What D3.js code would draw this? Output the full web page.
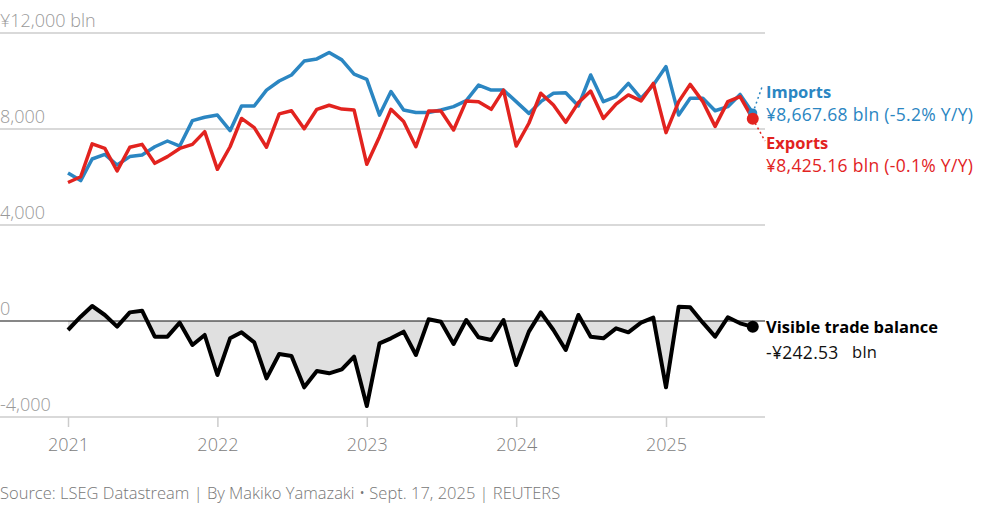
<!DOCTYPE html>
<html>
<head>
<meta charset="utf-8">
<script src="https://cdn.jsdelivr.net/npm/d3@7"></script>
<style>
  body { margin: 0; background: #fff; }
  svg { display: block; font-family: 'Open Sans', 'Lato', sans-serif; }
</style>
</head>
<body>
<div id="chart"></div>
<script>
(function(d3) {
  'use strict';

  //months, Jan 2021 - Aug 2025
  var months = [
    '2021-01','2021-02','2021-03','2021-04','2021-05','2021-06','2021-07','2021-08','2021-09','2021-10','2021-11','2021-12',
    '2022-01','2022-02','2022-03','2022-04','2022-05','2022-06','2022-07','2022-08','2022-09','2022-10','2022-11','2022-12',
    '2023-01','2023-02','2023-03','2023-04','2023-05','2023-06','2023-07','2023-08','2023-09','2023-10','2023-11','2023-12',
    '2024-01','2024-02','2024-03','2024-04','2024-05','2024-06','2024-07','2024-08','2024-09','2024-10','2024-11','2024-12',
    '2025-01','2025-02','2025-03','2025-04','2025-05','2025-06','2025-07','2025-08'
  ];

  //yen, billions
  var imports = [
    6170, 5850, 6750, 6940, 6500, 6850, 6920, 7260, 7500, 7290, 8350, 8490,
    8580, 7930, 8960, 8960, 9620, 10000, 10250, 10830, 10920, 11190, 10880, 10290,
    10070, 8580, 9560, 8790, 8690, 8690, 8790, 8930, 9180, 9830, 9620, 9620,
    9140, 8650, 9140, 9490, 9510, 8960, 10250, 9140, 9350, 9900, 9280, 9830,
    10600, 8580, 9280, 9280, 8760, 8930, 9440, 8667.68
  ];
  var exports = [
    5770, 6010, 7380, 7190, 6250, 7240, 7360, 6570, 6850, 7190, 7360, 7890,
    6320, 7260, 8440, 8060, 7240, 8630, 8760, 8010, 8820, 8990, 8830, 8790,
    6530, 7680, 8820, 8310, 7260, 8750, 8750, 7960, 9170, 9140, 8820, 9620,
    7290, 8240, 9490, 9000, 8280, 9100, 9580, 8440, 9040, 9420, 9170, 9900,
    7850, 9140, 9860, 9140, 8110, 9140, 9350, 8425.16
  ];
  var balance = [
    -375, 180, 625, 250, -236, 360, 430, -653, -653, -70, -1000, -583,
    -2250, -722, -472, -889, -2389, -1375, -1458, -2764, -2083, -2180, -2014, -1486,
    -3542, -931, -722, -444, -1417, 70, -28, -958, 42, -680, -792, 42,
    -1833, -444, 360, -375, -1208, 250, -653, -722, -306, -472, -70, 139,
    -2764, 597, 569, -70, -653, 153, -97, -242.53
  ];

  //axis ticks
  var yTicks = [-4000, 0, 4000, 8000, 12000];
  var yearTicks = ['2021', '2022', '2023', '2024', '2025'];

  //Sizes
  var width = 981;
  var height = 505;
  var plotLeft = 0;
  var plotRight = 765;

  //Colors
  var importColor = '#2b86c2';
  var exportColor = '#e2231f';
  var gridColor = '#cccccc';
  var labelColor = '#999999';

  var parseMonth = d3.timeParse('%Y-%m');
  var dates = months.map(parseMonth);

  var x = d3.scaleTime()
    .domain([parseMonth('2021-01'), parseMonth('2025-01')])
    .range([68, 666]);

  var y = d3.scaleLinear()
    .domain([-4000, 12000])
    .range([417, 33]);

  var svg = d3.select('#chart').append('svg')
    .attr('width', width)
    .attr('height', height);

  //gridlines + labels
  var grid = svg.append('g');
  grid.selectAll('line')
    .data(yTicks.filter(function(d){ return d !== 0; }))
    .enter().append('line')
    .attr('x1', plotLeft).attr('x2', plotRight)
    .attr('y1', function(d){ return y(d); })
    .attr('y2', function(d){ return y(d); })
    .attr('stroke', gridColor)
    .attr('stroke-width', 1.5);

  grid.selectAll('text')
    .data(yTicks)
    .enter().append('text')
    .attr('x', 0)
    .attr('y', function(d){ return y(d) - 6; })
    .attr('fill', labelColor)
    .attr('font-size', 18)
    .attr('font-weight', 300)
    .text(function(d){
      var s = d3.format(',')(d).replace('−', '-');
      return d === 12000 ? '¥' + s + ' bln' : s;
    });

  //x axis ticks
  var xAxis = d3.axisBottom(x)
    .tickValues(yearTicks.map(function(d){ return d3.timeParse('%Y')(d); }))
    .tickFormat(d3.timeFormat('%Y'))
    .tickSize(10)
    .tickPadding(11);

  var xg = svg.append('g')
    .attr('transform', 'translate(0,' + y(-4000) + ')')
    .call(xAxis);
  xg.select('.domain').remove();
  xg.selectAll('line').attr('stroke', gridColor).attr('stroke-width', 1.5);
  xg.selectAll('text')
    .attr('fill', '#808080')
    .attr('font-size', 18)
    .attr('font-weight', 300)
    .attr('font-family', "'Open Sans', sans-serif");

  //balance area
  var area = d3.area()
    .x(function(d, i){ return x(dates[i]); })
    .y0(y(0))
    .y1(function(d){ return y(d); });

  svg.append('path')
    .datum(balance)
    .attr('d', area)
    .attr('fill', '#e0e0e0');

  //zero line
  svg.append('line')
    .attr('x1', plotLeft).attr('x2', plotRight)
    .attr('y1', y(0)).attr('y2', y(0))
    .attr('stroke', '#111')
    .attr('stroke-width', 1.2);

  var line = d3.line()
    .x(function(d, i){ return x(dates[i]); })
    .y(function(d){ return y(d); });

  function drawLine(values, color, w) {
    svg.append('path')
      .datum(values)
      .attr('d', line)
      .attr('fill', 'none')
      .attr('stroke', color)
      .attr('stroke-width', w)
      .attr('stroke-linejoin', 'round');
  }

  drawLine(balance, '#000', 4);
  drawLine(imports, importColor, 3.5);
  drawLine(exports, exportColor, 3.5);

  //end points
  var last = dates.length - 1;
  var lx = x(dates[last]);

  //leader lines
  svg.append('line')
    .attr('x1', lx).attr('y1', y(imports[last]))
    .attr('x2', 762).attr('y2', 87)
    .attr('stroke', importColor).attr('stroke-width', 1.5)
    .attr('stroke-dasharray', '2,3');
  svg.append('line')
    .attr('x1', lx).attr('y1', y(exports[last]))
    .attr('x2', 765).attr('y2', 141)
    .attr('stroke', exportColor).attr('stroke-width', 1.5)
    .attr('stroke-dasharray', '2,3');

  svg.append('circle').attr('cx', lx).attr('cy', y(imports[last])).attr('r', 4.5).attr('fill', importColor);
  svg.append('circle').attr('cx', lx).attr('cy', y(exports[last])).attr('r', 6).attr('fill', exportColor);
  svg.append('circle').attr('cx', lx).attr('cy', y(balance[last])).attr('r', 6).attr('fill', '#000');

  //labels
  function label(tx, ty, str, color, weight, size, spacing) {
    svg.append('text')
      .attr('x', tx).attr('y', ty)
      .attr('fill', color)
      .attr('font-size', size || 16)
      .attr('font-weight', weight || 400)
      .attr('letter-spacing', spacing || 0)
      .text(str);
  }

  label(766, 98, 'Imports', importColor, 700, 16.5);
  label(766, 121, '¥8,667.68 bln (-5.2% Y/Y)', importColor, 400, 17.5, 0.3);
  label(766, 149, 'Exports', exportColor, 700, 16.5);
  label(766, 172, '¥8,425.16  bln (-0.1% Y/Y)', exportColor, 400, 17.5, 0.3);
  label(766, 333, 'Visible trade balance', '#000', 700, 16.5);
  label(766, 359, '-¥242.53', '#111', 400, 17.5, 0.3);
  label(852, 358, 'bln', '#111', 400, 16.5, 0.3);

  //source
  svg.append('text')
    .attr('x', 0).attr('y', 499)
    .attr('fill', '#777')
    .attr('font-size', 16.5)
    .attr('font-weight', 300)
    .text('Source: LSEG Datastream | By Makiko Yamazaki \u2022 Sept. 17, 2025 | REUTERS');
})(window.d3);
</script>
</body>
</html>
